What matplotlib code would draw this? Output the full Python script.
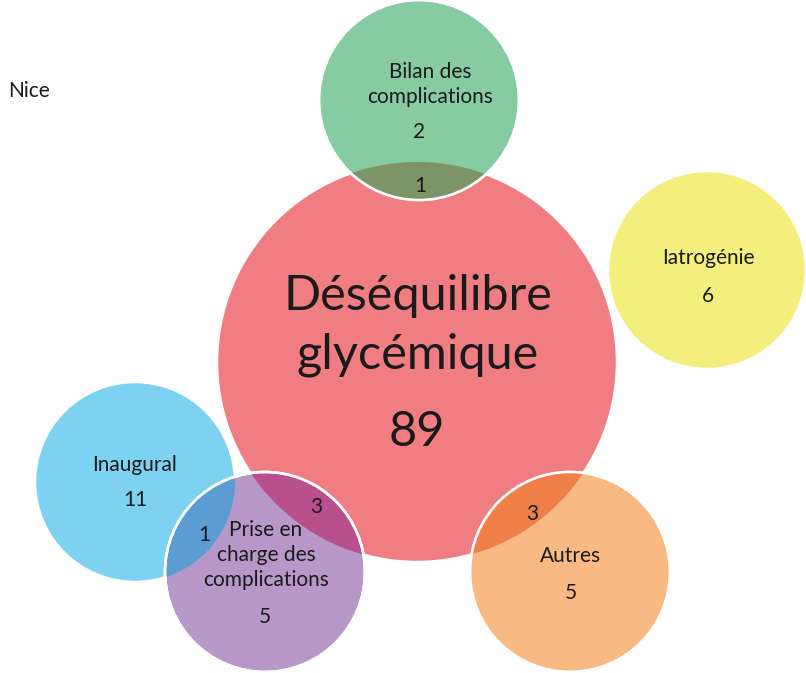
import matplotlib
matplotlib.use("Agg")
import matplotlib.pyplot as plt
from matplotlib.patches import Circle

plt.rcParams['font.family'] = ['Lato', 'DejaVu Sans']

# data
categories = ["Déséquilibre\nglycémique", "Bilan des\ncomplications", "Iatrogénie",
              "Inaugural", "Prise en\ncharge des\ncomplications", "Autres"]
counts = [89, 2, 6, 11, 5, 5]
overlap_pairs = [(0, 1), (0, 4), (0, 5), (3, 4)]
overlap_counts = [1, 3, 3, 1]
site = "Nice"

# layout (pixels)
centers = [(417, 362), (419, 100), (707, 270), (135, 482), (265, 572), (570, 572)]
radii = [200, 100, 99, 100, 100, 100]
colors = ["#F07D82", "#87CBA2", "#F4EE7C", "#7DD2F2", "#B898C9", "#F8BA82"]
overlap_colors = ["#7D9466", "#B8508E", "#F07E47", "#5B9CD3"]
overlap_text_pos = [(420, 186), (316, 507), (532, 514), (204, 535)]
label_top = [(418, 296), (430, 72), (708, 258), (135, 465), (266, 530), (571, 556)]
count_pos = [(417, 432), (419, 132), (708, 296), (135, 500), (265, 617), (571, 593)]

fig = plt.figure(figsize=(8.06, 6.73), dpi=100)
ax = fig.add_axes([0, 0, 1, 1])
ax.set_xlim(0, 806)
ax.set_ylim(673, 0)
ax.set_aspect('equal')
ax.axis('off')

# draw order: red, blue, then the rest
order = [0, 3, 1, 2, 4, 5]
for i in order:
    ax.add_patch(Circle(centers[i], radii[i], facecolor=colors[i], edgecolor='white',
                        lw=1.8, zorder=1 + order.index(i)))

# overlaps: fill the second circle in the overlap colour, clipped to the first
for (a, b), oc in zip(overlap_pairs, overlap_colors):
    clip = Circle(centers[a], radii[a], transform=ax.transData)
    ov = Circle(centers[b], radii[b], facecolor=oc, edgecolor='none', zorder=10)
    ax.add_patch(ov)
    ov.set_clip_path(clip)
    # white rim of the circle that is on top
    top = b if order.index(b) > order.index(a) else a
    ax.add_patch(Circle(centers[top], radii[top], facecolor='none', edgecolor='white', lw=1.8, zorder=11))

for i, name in enumerate(categories):
    big = i == 0
    fs = 35 if big else 15
    step = 59 if big else 25
    x, y = label_top[i]
    for k, line in enumerate(name.split("\n")):
        ax.text(x, y + k * step, line, ha='center', va='center', fontsize=fs,
                color='#1a1a1a', zorder=20)
    ax.text(count_pos[i][0], count_pos[i][1], str(counts[i]), ha='center', va='center',
            fontsize=fs, color='#1a1a1a', zorder=20)

for (x, y), n in zip(overlap_text_pos, overlap_counts):
    ax.text(x, y, str(n), ha='center', va='center', fontsize=15, color='#1a1a1a', zorder=20)

ax.text(8, 91, site, ha='left', va='center', fontsize=15, color='#1a1a1a')

fig.savefig("out.png", dpi=100)
